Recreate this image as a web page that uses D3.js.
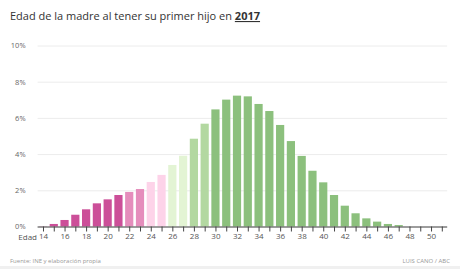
<!DOCTYPE html>
<html>
<head>
<meta charset="utf-8">
<script src="https://cdn.jsdelivr.net/npm/d3@7"></script>
<style>
  body { margin: 0; background: #fff; font-family: "Open Sans", sans-serif; }
  svg { display: block; }
</style>
</head>
<body>
<div id="chart"></div>
<script>
// data: share of first births by mother's age, 2017
const ages = d3.range(14, 52);
const shares = [0.01, 0.14, 0.36, 0.65, 0.95, 1.28, 1.50, 1.74, 1.91, 2.07, 2.46, 2.85,
  3.40, 3.91, 4.85, 5.68, 6.47, 7.01, 7.23, 7.19, 6.77, 6.38, 5.61, 4.72, 3.90, 3.08,
  2.44, 1.74, 1.15, 0.73, 0.45, 0.27, 0.14, 0.08, 0, 0, 0, 0];
const yTicks = [0, 2, 4, 6, 8, 10];
const colorBreaks = [22, 24, 26, 28, 30];
const colorSteps = ['#cc4f99', '#e58dbc', '#fdd3e9', '#e3f4d4', '#b3d8a1', '#8cc07d'];

const width = 460, height = 269;
const margin = {top: 45.5, right: 13, bottom: 42.5, left: 37.6};

const svg = d3.select('#chart').append('svg')
  .attr('width', width)
  .attr('height', height);

const x = d3.scaleBand()
  .domain(ages)
  .range([margin.left, 447.2])
  .paddingInner(0.24)
  .paddingOuter(0.12);

const y = d3.scaleLinear()
  .domain([0, 10])
  .range([height - margin.bottom, margin.top]);

const color = d3.scaleThreshold().domain(colorBreaks).range(colorSteps);

// footer band
svg.append('rect')
  .attr('x', 0).attr('y', 266).attr('width', width).attr('height', 3)
  .attr('fill', '#f0f0f0');

// title
const title = svg.append('text')
  .attr('x', 10).attr('y', 20)
  .style('font-size', '11px')
  .style('fill', '#333');
title.append('tspan').text('Edad de la madre al tener su primer hijo en ');
title.append('tspan').text('2017')
  .style('font-weight', 'bold')
  .style('text-decoration', 'underline');

// gridlines + y labels
const yAxis = svg.append('g')
  .attr('transform', `translate(${margin.left},0)`)
  .call(d3.axisLeft(y).tickValues(yTicks).tickSize(-(447.2 - margin.left)).tickFormat(d => d + '%'));
yAxis.select('.domain').remove();
yAxis.selectAll('.tick line').attr('stroke', '#ececec');
yAxis.selectAll('.tick text')
  .attr('x', -12)
  .style('font-family', '"Open Sans", sans-serif')
  .style('font-size', '7.5px')
  .style('fill', '#666');

// bars
svg.append('g').selectAll('rect')
  .data(ages.map((a, i) => ({age: a, v: shares[i]})).filter(d => d.v > 0))
  .join('rect')
  .attr('x', d => x(d.age))
  .attr('width', x.bandwidth())
  .attr('y', d => y(d.v))
  .attr('height', d => y(0) - y(d.v))
  .attr('fill', d => color(d.age));

// x axis
const xScalePoint = d3.scalePoint().domain(ages).range([x(14) + x.bandwidth() / 2, x(51) + x.bandwidth() / 2]);
const xAxis = svg.append('g')
  .attr('transform', `translate(0,${y(0)})`)
  .call(d3.axisBottom(xScalePoint).tickSize(5).tickSizeOuter(0)
    .tickFormat(d => d % 2 === 0 && d <= 50 ? d : ''));
xAxis.select('.domain')
  .attr('d', `M${margin.left},0.5H447.2`)
  .attr('stroke', '#444');
xAxis.selectAll('.tick line').attr('stroke', '#444');
xAxis.selectAll('.tick text')
  .attr('y', 7)
  .style('font-family', '"Open Sans", sans-serif')
  .style('font-size', '8px')
  .style('fill', '#555');

svg.append('text')
  .attr('x', 37).attr('y', 239.5)
  .attr('text-anchor', 'end')
  .style('font-size', '8px')
  .style('fill', '#555')
  .text('Edad');

// footer
svg.append('text')
  .attr('x', 10).attr('y', 263)
  .style('font-size', '6px')
  .style('fill', '#999')
  .text('Fuente: INE y elaboración propia');
svg.append('text')
  .attr('x', 450).attr('y', 263)
  .attr('text-anchor', 'end')
  .style('font-size', '6px')
  .style('fill', '#999')
  .text('LUIS CANO / ABC');
</script>
</body>
</html>
